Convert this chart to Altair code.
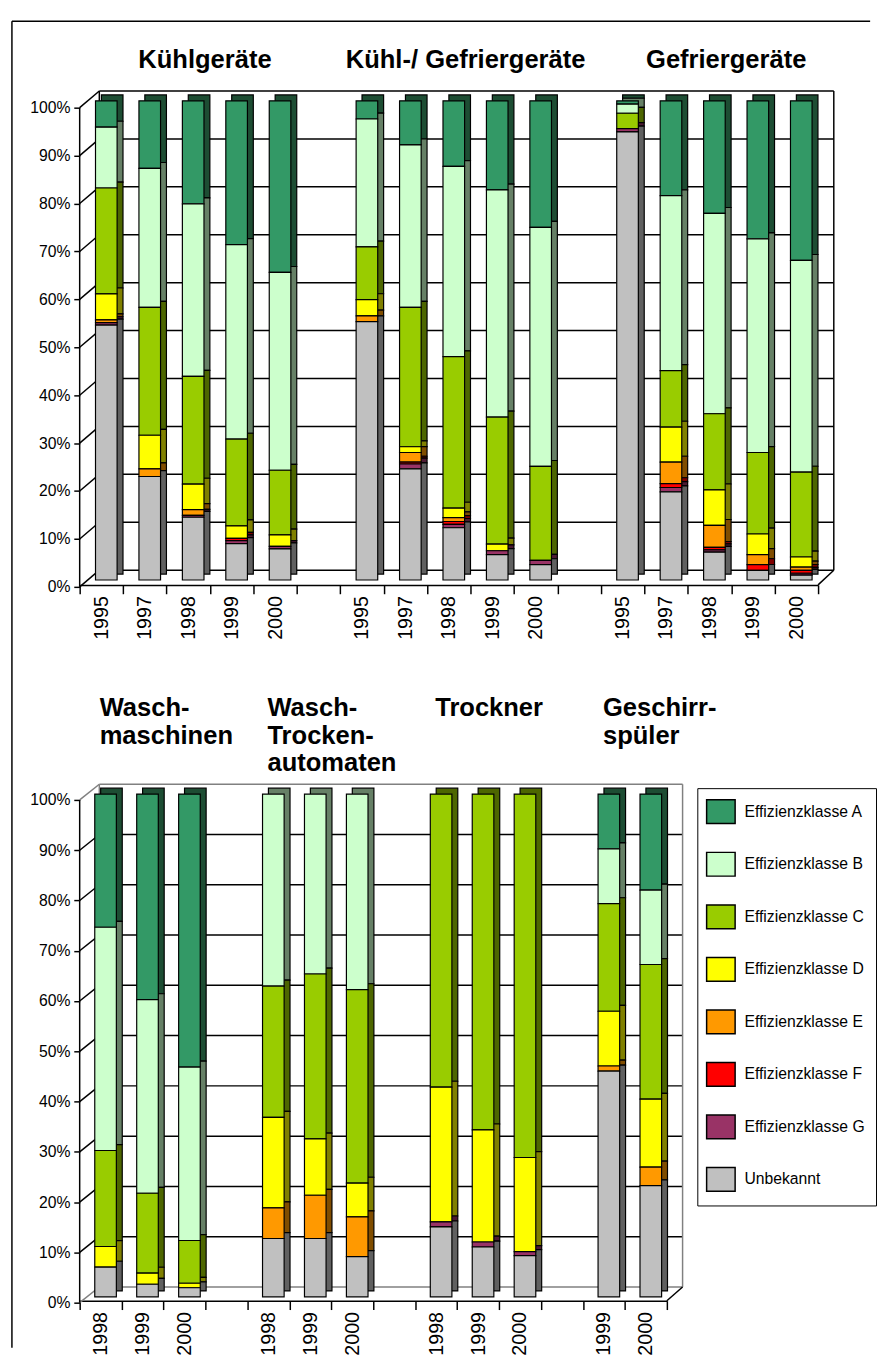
import altair as alt
import pandas as pd

FONT = "Liberation Sans"

classes = ["Effizienzklasse A", "Effizienzklasse B", "Effizienzklasse C", "Effizienzklasse D",
           "Effizienzklasse E", "Effizienzklasse F", "Effizienzklasse G", "Unbekannt"]
letters = ["A", "B", "C", "D", "E", "F", "G", "U"]
front_colors = ["#339966", "#CCFFCC", "#99CC00", "#FFFF00", "#FF9900", "#FF0000", "#993366", "#C0C0C0"]
side_colors = ["#1D4D33", "#668066", "#4D6600", "#808000", "#804D00", "#800000", "#4D1A33", "#606060"]

# ---- top panel ----
top_groups = ["Kühlgeräte", "Kühl-/ Gefriergeräte", "Gefriergeräte"]
top_years = ["1995", "1997", "1998", "1999", "2000"]

kuehl = {
    "A": [5.5, 14.1, 21.5, 30.0, 35.8],
    "B": [12.7, 29.0, 36.0, 40.6, 41.3],
    "C": [22.1, 26.7, 22.5, 18.1, 13.5],
    "D": [5.4, 7.0, 5.3, 2.6, 2.4],
    "E": [0.6, 1.6, 1.2, 0.0, 0.0],
    "F": [0.0, 0.0, 0.0, 0.5, 0.0],
    "G": [0.5, 0.0, 0.4, 0.6, 0.5],
    "U": [53.2, 21.6, 13.1, 7.6, 6.5],
}
kuehl_gefrier = {
    "A": [3.8, 9.2, 13.7, 18.6, 26.4],
    "B": [26.7, 33.9, 39.7, 47.4, 49.9],
    "C": [11.0, 29.1, 31.6, 26.5, 19.6],
    "D": [3.4, 1.2, 2.0, 1.4, 0.0],
    "E": [1.2, 2.0, 0.8, 0.0, 0.0],
    "F": [0.0, 0.4, 0.6, 0.0, 0.0],
    "G": [0.0, 1.0, 0.7, 0.8, 0.9],
    "U": [53.9, 23.2, 10.9, 5.3, 3.2],
}
gefrier = {
    "A": [0.7, 19.8, 23.5, 28.8, 33.3],
    "B": [1.9, 36.5, 41.8, 44.6, 44.2],
    "C": [3.2, 11.8, 15.9, 17.0, 17.7],
    "D": [0.0, 7.3, 7.4, 4.3, 2.1],
    "E": [0.0, 4.5, 4.6, 2.1, 0.7],
    "F": [0.0, 0.8, 0.5, 1.2, 0.6],
    "G": [0.7, 0.9, 0.5, 0.0, 0.4],
    "U": [93.5, 18.4, 5.8, 2.0, 1.0],
}

# ---- bottom panel ----
bottom_groups = ["Wasch-\nmaschinen", "Wasch-\nTrocken-\nautomaten", "Trockner", "Geschirr-\nspüler"]
bottom_years = [["1998", "1999", "2000"], ["1998", "1999", "2000"],
                ["1998", "1999", "2000"], ["1999", "2000"]]
wasch = {
    "A": [26.5, 40.9, 54.3], "B": [44.4, 38.5, 34.5], "C": [19.1, 15.9, 8.5],
    "D": [4.1, 2.2, 0.9], "E": [0, 0, 0], "F": [0, 0, 0], "G": [0, 0, 0],
    "U": [5.9, 2.5, 1.8],
}
wasch_trocken = {
    "A": [0, 0, 0], "B": [38.2, 35.8, 38.9], "C": [26.1, 32.8, 38.5],
    "D": [18.0, 11.2, 6.7], "E": [6.1, 8.6, 7.9], "F": [0, 0, 0], "G": [0, 0, 0],
    "U": [11.6, 11.6, 8.0],
}
trockner = {
    "A": [0, 0, 0], "B": [0, 0, 0], "C": [58.3, 66.8, 72.3],
    "D": [26.8, 22.3, 18.7], "E": [0, 0, 0], "F": [0, 0, 0], "G": [1.0, 1.0, 0.8],
    "U": [13.9, 9.9, 8.2],
}
geschirr = {
    "A": [10.9, 19.1], "B": [10.9, 14.8], "C": [21.4, 26.8],
    "D": [10.9, 13.5], "E": [1.0, 3.7], "F": [0, 0], "G": [0, 0],
    "U": [44.9, 22.1],
}

ticks = [0, 10, 20, 30, 40, 50, 60, 70, 80, 90, 100]


def build(groups, years_list, dicts, prefix):
    rows, domain, titles = [], [], []
    for gi, (g, yrs, d) in enumerate(zip(groups, years_list, dicts)):
        if gi > 0:
            domain.append(f"{prefix}{gi}|")
        keys = []
        for yi, y in enumerate(yrs):
            key = f"{g}|{y}"
            keys.append(key)
            domain.append(key)
            for ci, c in enumerate(letters):
                v = d[c][yi]
                if v > 0:
                    rows.append(dict(key=key, klasse=classes[ci], value=v,
                                     ord=7 - ci, side=side_colors[ci]))
        titles.append(dict(key=keys, title=g))
    return pd.DataFrame(rows), domain, titles


top_df, top_domain, top_titles = build(top_groups, [top_years] * 3,
                                       [kuehl, kuehl_gefrier, gefrier], "sp")
bot_df, bot_domain, bot_titles = build(bottom_groups, bottom_years,
                                       [wasch, wasch_trocken, trockner, geschirr], "sq")

top_title_df = pd.DataFrame([dict(key=t["key"][len(t["key"]) // 2], title=t["title"]) for t in top_titles])
bot_title_df = pd.DataFrame([dict(key=t["key"][0], title=t["title"]) for t in bot_titles])


def panel(df, domain, title_df, width, height, frame_color, legend, multiline,
          label_shift, axis_offset, extra=None):
    xscale = alt.Scale(domain=domain, paddingInner=0, paddingOuter=0)
    yscale = alt.Scale(domain=[0, 100], nice=False)
    xaxis = alt.Axis(title=None, labelExpr="split(datum.value, '|')[1]", labelAngle=270,
                     labelFontSize=20, labelFont=FONT, labelColor="black",
                     tickBand="extent", tickSize=9, labelPadding=2, offset=axis_offset,
                     domainColor="black", tickColor="black", domainWidth=1.5, tickWidth=1.5)
    yaxis = alt.Axis(title=None, values=ticks, labelExpr="datum.value + '%'",
                     labelFontSize=16, labelFont=FONT, labelColor="black",
                     tickOffset=label_shift, tickSize=6, labelPadding=4, domain=False, grid=False,
                     tickColor="black", tickWidth=1.5)

    tick_df = pd.DataFrame({"t": ticks,
                            "lc": [frame_color if t in (0, 100) else "black" for t in ticks]})
    base_t = alt.Chart(tick_df)
    back = width + 16

    grid = base_t.mark_rule(strokeWidth=1.5, yOffset=-10).encode(
        x=alt.value(20), x2=alt.value(back),
        y=alt.Y("t:Q", scale=yscale, axis=yaxis),
        stroke=alt.Stroke("lc:N", scale=None))
    diag = base_t.mark_rule(strokeWidth=1.5, yOffset=label_shift, y2Offset=-10).encode(
        x=alt.value(0), x2=alt.value(20),
        y=alt.Y("t:Q", title=None), y2="t:Q",
        stroke=alt.Stroke("lc:N", scale=None))
    span = pd.DataFrame({"a": [0], "b": [100]})
    left_edge = alt.Chart(span).mark_rule(
        strokeWidth=1.5, yOffset=-10, y2Offset=-10, color=frame_color).encode(
        x=alt.value(20), y=alt.Y("a:Q", title=None), y2="b:Q")
    right_edge = alt.Chart(span).mark_rule(
        strokeWidth=1.5, yOffset=-10, y2Offset=-10, color=frame_color).encode(
        x=alt.value(back), y=alt.Y("a:Q", title=None), y2="b:Q")
    front_edge = alt.Chart(span).mark_rule(
        strokeWidth=1.5, yOffset=label_shift, y2Offset=label_shift, color="black").encode(
        x=alt.value(0), y=alt.Y("a:Q", title=None), y2="b:Q")
    floor_diag = alt.Chart(span).mark_rule(
        strokeWidth=1.5, yOffset=axis_offset, y2Offset=-10, color="black").encode(
        x=alt.value(width), x2=alt.value(back), y=alt.Y("a:Q", title=None), y2="a:Q")

    bars = alt.Chart(df)
    side = bars.mark_bar(size=22, xOffset=11, yOffset=-6, y2Offset=-6,
                         stroke="black", strokeWidth=1.2).encode(
        x=alt.X("key:N", scale=xscale, axis=xaxis, sort=domain),
        y=alt.Y("value:Q", stack="zero", title=None),
        order=alt.Order("ord:Q", sort="ascending"),
        fill=alt.Fill("side:N", scale=None))
    front = bars.mark_bar(size=22, xOffset=5, stroke="black", strokeWidth=1.2).encode(
        x=alt.X("key:N", sort=domain),
        y=alt.Y("value:Q", stack="zero", title=None),
        order=alt.Order("ord:Q", sort="ascending"),
        color=alt.Color("klasse:N", scale=alt.Scale(domain=classes, range=front_colors),
                        legend=legend),
        opacity=alt.value(1))

    if multiline:
        titles = alt.Chart(title_df).mark_text(
            font=FONT, fontSize=26, fontWeight="bold", align="left", baseline="alphabetic",
            lineBreak="\n", lineHeight=28, dx=-1, dy=-79, color="black").encode(
            x=alt.X("key:N", sort=domain), y=alt.datum(100), text="title:N")
    else:
        titles = alt.Chart(title_df).mark_text(
            font=FONT, fontSize=26, fontWeight="bold", align="center", baseline="alphabetic",
            dx=17, dy=-33, color="black").encode(
            x=alt.X("key:N", sort=domain), y=alt.datum(100), text="title:N")

    layers = [grid, diag, left_edge, right_edge, floor_diag, front_edge, side, front, titles]
    if extra is not None:
        layers = extra + layers
    return alt.layer(*layers).properties(width=width, height=height)


# outer frame of the whole figure (left and top edges), drawn in the top panel
frame_df = pd.DataFrame({"a": [0]})
frame_left = alt.Chart(frame_df).mark_rule(color="black", strokeWidth=1.5).encode(
    x=alt.value(-69), y=alt.value(-81), y2=alt.value(1270))
frame_top = alt.Chart(frame_df).mark_rule(color="black", strokeWidth=1.5).encode(
    x=alt.value(-69), x2=alt.value(805), y=alt.value(-81))

legend = alt.Legend(title=None, orient="none", legendX=629, legendY=-6,
                    symbolType="M-1.2,-1H1.2V1H-1.2Z", symbolSize=585,
                    symbolStrokeColor="black", symbolStrokeWidth=1.5, symbolOpacity=1,
                    labelFontSize=16, labelFont=FONT, labelColor="black", labelOffset=11,
                    rowPadding=21.5, padding=11, strokeColor="black", fillColor="white")

top = panel(top_df, top_domain, top_title_df, 752, 488, "black", None, False, 7, 5,
            extra=[frame_left, frame_top])
bottom = panel(bot_df, bot_domain, bot_title_df, 598, 512, "#808080", legend, True, 6, 4)

chart = alt.vconcat(top, bottom, spacing=218, bounds="flush").resolve_scale(
    color="independent", x="independent", y="independent"
).properties(
    padding={"left": 3, "top": 0, "right": 0, "bottom": 0}
).configure_view(stroke=None)

chart.save("out.html", embed_options={"renderer": "svg", "actions": False})
